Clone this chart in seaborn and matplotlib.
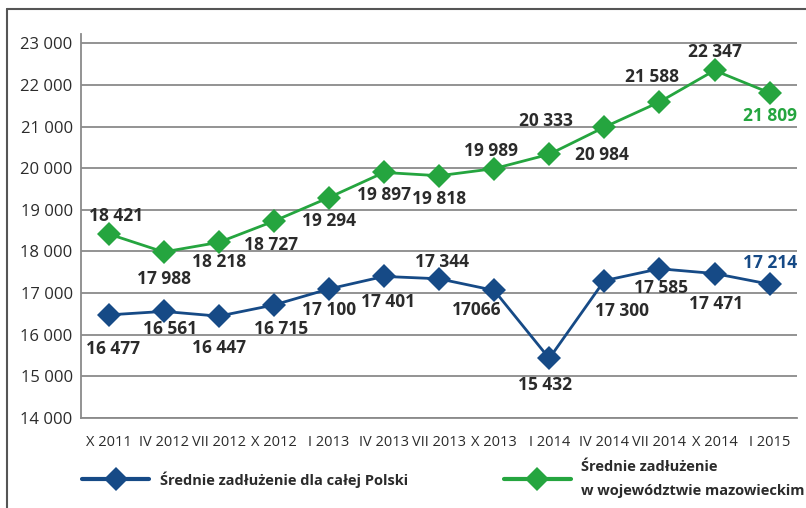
import matplotlib
matplotlib.use("Agg")
import matplotlib.pyplot as plt
from matplotlib.lines import Line2D
from matplotlib.ticker import FuncFormatter, FixedLocator
import numpy as np
import pandas as pd
import seaborn as sns

# data
periods = ["X 2011", "IV 2012", "VII 2012", "X 2012", "I 2013", "IV 2013", "VII 2013",
           "X 2013", "I 2014", "IV 2014", "VII 2014", "X 2014", "I 2015"]
polska = [16477, 16561, 16447, 16715, 17100, 17401, 17344, 17066, 15432, 17300, 17585, 17471, 17214]
mazowieckie = [18421, 17988, 18218, 18727, 19294, 19897, 19818, 19989, 20333, 20984, 21588, 22347, 21809]
polska_text = ["16 477", "16 561", "16 447", "16 715", "17 100", "17 401", "17 344", "17066",
               "15 432", "17 300", "17 585", "17 471", "17 214"]
mazow_text = ["18 421", "17 988", "18 218", "18 727", "19 294", "19 897", "19 818", "19 989",
              "20 333", "20 984", "21 588", "22 347", "21 809"]
name_pl = "Średnie zadłużenie dla całej Polski"
name_maz = "Średnie zadłużenie\nw województwie mazowieckim"

# label placement (pixel offsets from the marker)
pl_off = [(4, -34), (6, -18), (0, -32), (7, -24), (0, -21), (4, -26), (3, 17), (-17, -20),
          (-4, -27), (18, -30), (2, -19), (2, -30), (0, 21)]
maz_off = [(8, 18), (0, -27), (0, -20), (-3, -24), (0, -23), (0, -23), (0, -23), (-3, 18),
           (-3, 33), (-2, -28), (-7, 25), (0, 18), (0, -23)]

BLUE = "#164a86"
GREEN = "#25a53f"
TXT = "#2b2b2b"
GRID = "#8a8a8a"

sns.set_style("white")
plt.rcParams["font.family"] = ["Open Sans", "DejaVu Sans"]

df = pd.DataFrame({
    "idx": list(range(len(periods))) * 2,
    "value": polska + mazowieckie,
    "series": [name_pl] * len(periods) + [name_maz] * len(periods),
})

fig = plt.figure(figsize=(8.06, 5.08), dpi=100)
ax = fig.add_axes([0.1005, 0.177, 0.8885, 0.756])

sns.lineplot(data=df, x="idx", y="value", hue="series", palette=[BLUE, GREEN],
             marker="D", markersize=12, markeredgewidth=0, linewidth=2.0,
             sort=False, ax=ax, legend=False, zorder=3)

ax.set_xlim(-0.5, len(periods) - 0.5)
ax.set_ylim(14000, 23220)
ax.yaxis.set_major_locator(FixedLocator(np.arange(14000, 23001, 1000)))
ax.yaxis.set_major_formatter(FuncFormatter(lambda v, p: f"{int(v):,}".replace(",", " ")))
ax.grid(axis="y", color=GRID, linewidth=1.3)
ax.set_axisbelow(True)

ax.set_xticks(range(len(periods)))
ax.set_xticklabels(periods, fontsize=10.5, color=TXT)
ax.set_xticks(np.arange(-0.5, len(periods)), minor=True)
ax.tick_params(axis="x", which="major", length=0, pad=12)
ax.tick_params(axis="x", which="minor", length=6, width=1.2, color=GRID, direction="out")
ax.tick_params(axis="y", length=3, width=1, color=GRID, pad=3, labelsize=12, labelcolor=TXT)
ax.set_xlabel("")
ax.set_ylabel("")

for s in ["top", "right"]:
    ax.spines[s].set_visible(False)
for s in ["left", "bottom"]:
    ax.spines[s].set_color(GRID)
    ax.spines[s].set_linewidth(1.3)

for i in range(len(periods)):
    ax.annotate(polska_text[i], (i, polska[i]), xytext=pl_off[i], textcoords="offset pixels",
                ha="center", va="center", fontsize=12.5, fontweight="bold",
                color=BLUE if i == len(periods) - 1 else TXT)
    ax.annotate(mazow_text[i], (i, mazowieckie[i]), xytext=maz_off[i], textcoords="offset pixels",
                ha="center", va="center", fontsize=12.5, fontweight="bold",
                color=GREEN if i == len(periods) - 1 else TXT)

# legend
handles = [Line2D([], [], color=BLUE, marker="D", markersize=12, markeredgewidth=0, linewidth=3),
           Line2D([], [], color=GREEN, marker="D", markersize=12, markeredgewidth=0, linewidth=3)]
leg = fig.legend(handles, [name_pl, name_maz], loc="center left", bbox_to_anchor=(0.102, 0.057),
                 ncol=2, frameon=False, borderpad=0, borderaxespad=0, handlelength=4.6,
                 columnspacing=6.6, handletextpad=0.7, labelspacing=0.3,
                 prop={"weight": "bold", "size": 10.5}, labelcolor=TXT)
leg.get_texts()[1].set_linespacing(1.9)

# outer frame (left and top)
fig.add_artist(Line2D([0.009, 0.009], [0, 0.982], color="#555555", linewidth=1.5,
                      transform=fig.transFigure))
fig.add_artist(Line2D([0.009, 1.0], [0.982, 0.982], color="#555555", linewidth=1.5,
                      transform=fig.transFigure))

fig.savefig("out.png", dpi=100)
